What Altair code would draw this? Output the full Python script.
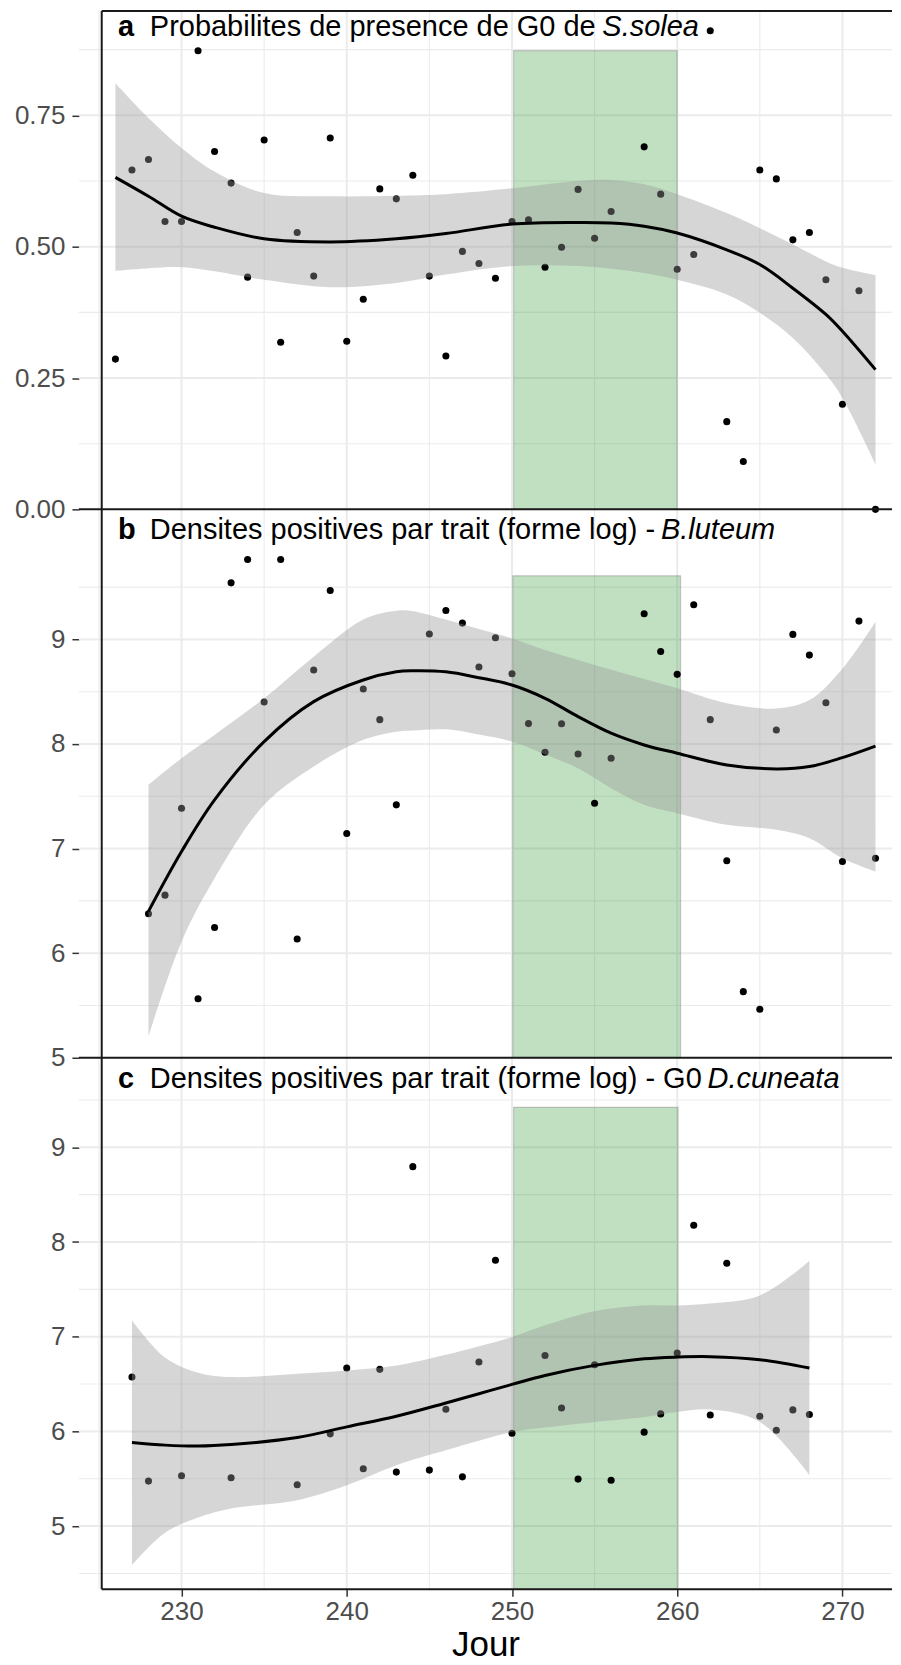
import altair as alt
import pandas as pd

# ---------------- shared x (Jour) ----------------
X_DOMAIN = [223.79, 273.0]
FRAME_X = 225.17
X_TICKS = [230, 240, 250, 260, 270]
X_MINOR = [225, 235, 245, 255, 265]

# ---------------- panel a : presence probability ----------------
days_a = [226, 227, 228, 229, 230, 231, 232, 233, 234, 235, 236, 237, 238, 239, 240,
          241, 242, 243, 244, 245, 246, 247, 248, 249, 250, 251, 252, 253, 254, 255,
          256, 258, 259, 260, 261, 262, 263, 264, 265, 266, 267, 268, 269, 270, 271, 272]
vals_a = [0.286, 0.646, 0.666, 0.548, 0.548, 0.873, 0.681, 0.621, 0.442, 0.703, 0.318,
          0.527, 0.444, 0.707, 0.320, 0.400, 0.610, 0.591, 0.636, 0.444, 0.292, 0.491,
          0.468, 0.440, 0.548, 0.551, 0.461, 0.499, 0.609, 0.516, 0.567, 0.690, 0.600,
          0.457, 0.485, 0.911, 0.167, 0.091, 0.646, 0.629, 0.513, 0.527, 0.437, 0.200,
          0.416, 0.000]
fit_days_a = [226, 228, 230, 232, 235, 239, 243, 246, 250, 254, 256, 258, 260, 263, 265,
              267, 269, 270, 272]
fit_a = [0.632, 0.596, 0.558, 0.537, 0.515, 0.509, 0.515, 0.525, 0.543, 0.546, 0.545,
         0.539, 0.526, 0.494, 0.466, 0.421, 0.371, 0.339, 0.266]
hi_a = [0.811, 0.745, 0.688, 0.643, 0.602, 0.596, 0.597, 0.600, 0.611, 0.625, 0.627,
        0.619, 0.600, 0.564, 0.535, 0.504, 0.472, 0.460, 0.446]
lo_a = [0.454, 0.459, 0.461, 0.453, 0.437, 0.423, 0.431, 0.447, 0.463, 0.463, 0.458,
        0.450, 0.437, 0.409, 0.374, 0.326, 0.257, 0.212, 0.086]
rect_a = [250.1, 260.0, 0.873, 0.0]
ydom_a = [0.0, 0.9506]
yticks_a = [0.0, 0.25, 0.5, 0.75]
ygrid_a = [0.25, 0.5, 0.75]
yminor_a = [0.125, 0.375, 0.625, 0.875]
title_a = ["a", "Probabilites de presence de G0 de", "S.solea"]

# ---------------- panel b : B.luteum ----------------
days_b = [228, 229, 230, 231, 232, 233, 234, 235, 236, 237, 238, 239, 240, 241, 242, 243,
          245, 246, 247, 248, 249, 250, 251, 252, 253, 254, 255, 256, 258, 259, 260, 261,
          262, 263, 264, 265, 266, 267, 268, 269, 270, 271, 272]
vals_b = [6.377, 6.555, 7.386, 5.565, 6.246, 9.541, 9.764, 8.401, 9.764, 6.135, 8.707,
          9.468, 7.144, 8.526, 8.233, 7.418, 9.051, 9.277, 9.156, 8.736, 9.016, 8.672,
          8.195, 7.921, 8.193, 7.905, 7.434, 7.863, 9.245, 8.885, 8.666, 9.331, 8.233,
          6.883, 5.632, 5.463, 8.134, 9.048, 8.850, 8.395, 6.876, 9.175, 6.908]
fit_days_b = [228, 230, 232, 235, 238, 241, 243, 244, 246, 248, 250, 252, 254, 256, 258,
              260, 263, 266, 268, 270, 272]
fit_b = [6.40, 6.972, 7.466, 8.023, 8.405, 8.612, 8.69, 8.70, 8.69, 8.634, 8.564, 8.437,
         8.262, 8.103, 7.991, 7.912, 7.80, 7.762, 7.784, 7.87, 7.98]
hi_b = [7.609, 7.864, 8.086, 8.437, 8.835, 9.19, 9.274, 9.27, 9.19, 9.10, 9.01, 8.90,
        8.803, 8.71, 8.621, 8.532, 8.389, 8.34, 8.42, 8.72, 9.169]
lo_b = [5.205, 6.11, 6.717, 7.418, 7.784, 8.04, 8.118, 8.13, 8.14, 8.09, 8.023, 7.90,
        7.768, 7.577, 7.418, 7.338, 7.227, 7.18, 7.10, 6.908, 6.78]
rect_b = [250.05, 260.2, 9.608, 5.0]
ydom_b = [5.0, 10.2436]
yticks_b = [5, 6, 7, 8, 9]
ygrid_b = [6, 7, 8, 9]
yminor_b = [5.5, 6.5, 7.5, 8.5, 9.5]
title_b = ["b", "Densites positives par trait (forme log) -", "B.luteum"]

# ---------------- panel c : G0 D.cuneata ----------------
days_c = [227, 228, 230, 233, 237, 239, 240, 241, 242, 243, 244, 245, 246, 247, 248, 249,
          250, 252, 253, 254, 255, 256, 258, 259, 260, 261, 262, 263, 265, 266, 267, 268]
vals_c = [6.574, 5.475, 5.531, 5.510, 5.436, 5.974, 6.669, 5.605, 6.655, 5.570, 8.796,
          5.591, 6.234, 5.520, 6.732, 7.808, 5.981, 6.802, 6.248, 5.496, 6.704, 5.485,
          5.992, 6.185, 6.827, 8.178, 6.174, 7.776, 6.160, 6.013, 6.227, 6.178]
fit_days_c = [227, 229, 231, 233, 237, 240, 243, 246, 248, 250, 252, 255, 258, 260, 262,
              265, 268]
fit_c = [5.883, 5.855, 5.845, 5.861, 5.935, 6.048, 6.160, 6.30, 6.398, 6.496, 6.591,
         6.697, 6.767, 6.785, 6.789, 6.757, 6.669]
hi_c = [7.172, 6.78, 6.62, 6.574, 6.61, 6.644, 6.697, 6.81, 6.90, 6.996, 7.12, 7.27,
        7.33, 7.33, 7.35, 7.436, 7.80]
lo_c = [4.589, 4.93, 5.09, 5.186, 5.274, 5.432, 5.643, 5.80, 5.90, 5.995, 6.04, 6.10,
        6.153, 6.206, 6.231, 6.10, 5.538]
rect_c = [250.1, 260.05, 9.422, 4.334]
ydom_c = [4.334, 9.946]
yticks_c = [5, 6, 7, 8, 9]
ygrid_c = [5, 6, 7, 8, 9]
yminor_c = [4.5, 5.5, 6.5, 7.5, 8.5, 9.5]
title_c = ["c", "Densites positives par trait (forme log) - G0", "D.cuneata"]

W = 814
FONT = "Liberation Sans"
GRID = "#ebebeb"
INTERP = "catmull-rom"


def make_panel(days, vals, fit_days, fit, hi, lo, rect, ydom, yticks, yfmt, ygrid, yminor,
               title, H, title_y, italic_x, top_line, bottom_line, show_x):
    xs = alt.Scale(domain=X_DOMAIN, nice=False, zero=False)
    ys = alt.Scale(domain=ydom, nice=False, zero=False)
    if show_x:
        xaxis = alt.Axis(values=X_TICKS, format="d", labelFontSize=26, labelColor="#4d4d4d",
                         labelFont=FONT, tickColor="#333333", tickSize=7, tickWidth=1.5,
                         labelPadding=2, domain=False, grid=False, title="Jour",
                         titleFontSize=35, titleFontWeight="normal", titleColor="black",
                         titleFont=FONT, titlePadding=3)
    else:
        xaxis = None
    yaxis = alt.Axis(values=yticks, format=yfmt, labelFontSize=26, labelColor="#4d4d4d",
                     labelFont=FONT, tickColor="#333333", tickSize=7, tickWidth=1.5,
                     labelPadding=7, domain=False, grid=False, minExtent=71, maxExtent=71)

    def X(f):
        return alt.X(f, type="quantitative", scale=xs, axis=xaxis, title="Jour" if show_x else None)

    def Y(f):
        return alt.Y(f, type="quantitative", scale=ys, axis=yaxis, title=None)

    vmaj = alt.Chart(pd.DataFrame({"g": X_TICKS})).mark_rule(color=GRID, strokeWidth=2).encode(
        x=X("g"), y=alt.value(0), y2=alt.value(H))
    vmin = alt.Chart(pd.DataFrame({"g": X_MINOR})).mark_rule(color=GRID, strokeWidth=1.1).encode(
        x=X("g"), y=alt.value(0), y2=alt.value(H))
    hmaj = alt.Chart(pd.DataFrame({"g": ygrid})).mark_rule(color=GRID, strokeWidth=2).encode(
        y=Y("g"), x=alt.value(0), x2=alt.value(W))
    hmin = alt.Chart(pd.DataFrame({"g": yminor})).mark_rule(color=GRID, strokeWidth=1.1).encode(
        y=Y("g"), x=alt.value(0), x2=alt.value(W))

    rect_df = pd.DataFrame({"x1": [rect[0]], "x2": [rect[1]], "y1": [rect[2]], "y2": [rect[3]]})
    green = alt.Chart(rect_df).mark_rect(fill="#228b22", fillOpacity=0.28, stroke="#8a8a8a",
                                         strokeOpacity=0.45, strokeWidth=1.2).encode(
        x=X("x1"), x2=alt.X2("x2"), y=Y("y1"), y2=alt.Y2("y2"))

    pts = alt.Chart(pd.DataFrame({"jour": days, "v": vals})).mark_circle(
        size=50, color="black", opacity=1).encode(x=X("jour"), y=Y("v"))

    fit_df = pd.DataFrame({"jour": fit_days, "fit": fit, "hi": hi, "lo": lo})
    band = alt.Chart(fit_df).mark_area(color="#999999", opacity=0.4, interpolate=INTERP).encode(
        x=X("jour"), y=Y("hi"), y2=alt.Y2("lo"))
    line = alt.Chart(fit_df).mark_line(color="black", strokeWidth=3, interpolate=INTERP).encode(
        x=X("jour"), y=Y("fit"))

    fx = pd.DataFrame({"fx": [FRAME_X]})
    layers = [vmin, vmaj, hmin, hmaj, green, pts, band, line]
    layers.append(alt.Chart(fx).mark_rule(color="#1a1a1a", strokeWidth=2).encode(
        x=X("fx"), y=alt.value(1 if top_line else 0), y2=alt.value(H)))
    if top_line:
        layers.append(alt.Chart(fx).mark_rule(color="#1a1a1a", strokeWidth=2).encode(
            x=X("fx"), x2=alt.value(W), y=alt.value(1)))
    else:
        layers.append(alt.Chart(fx).mark_rule(color="#1a1a1a", strokeWidth=2).encode(
            x=alt.value(0), x2=alt.value(W), y=alt.value(0)))
    if bottom_line:
        layers.append(alt.Chart(fx).mark_rule(color="#1a1a1a", strokeWidth=2).encode(
            x=X("fx"), x2=alt.value(W), y=alt.value(H)))

    tdf = pd.DataFrame({"t": [title[0]]})
    layers.append(alt.Chart(tdf).mark_text(align="left", baseline="alphabetic", fontSize=29,
                                           fontWeight="bold", font=FONT, color="black").encode(
        text="t:N", x=alt.value(39), y=alt.value(title_y)))
    tdf2 = pd.DataFrame({"t": [title[1]]})
    layers.append(alt.Chart(tdf2).mark_text(align="left", baseline="alphabetic", fontSize=29,
                                            font=FONT, color="black").encode(
        text="t:N", x=alt.value(71), y=alt.value(title_y)))
    tdf3 = pd.DataFrame({"t": [title[2]]})
    layers.append(alt.Chart(tdf3).mark_text(align="left", baseline="alphabetic", fontSize=29,
                                            fontStyle="italic", font=FONT, color="black").encode(
        text="t:N", x=alt.value(italic_x), y=alt.value(title_y)))

    return alt.layer(*layers).properties(width=W, height=H)


pa = make_panel(days_a, vals_a, fit_days_a, fit_a, hi_a, lo_a, rect_a, ydom_a, yticks_a, ".2f",
                ygrid_a, yminor_a, title_a, 500, 26.3, 524, True, False, False)
pb = make_panel(days_b, vals_b, fit_days_b, fit_b, hi_b, lo_b, rect_b, ydom_b, yticks_b, "d",
                ygrid_b, yminor_b, title_b, 549, 29.7, 582.7, False, False, False)
pc = make_panel(days_c, vals_c, fit_days_c, fit_c, hi_c, lo_c, rect_c, ydom_c, yticks_c, "d",
                ygrid_c, yminor_c, title_c, 532, 30.7, 629.3, False, True, True)

chart = alt.vconcat(pa, pb, pc, spacing=0, bounds="flush", padding=0).resolve_scale(
    x="independent", y="independent").configure(font=FONT).configure_view(strokeWidth=0)

chart.save("out.html", embed_options={"renderer": "svg", "actions": False})
